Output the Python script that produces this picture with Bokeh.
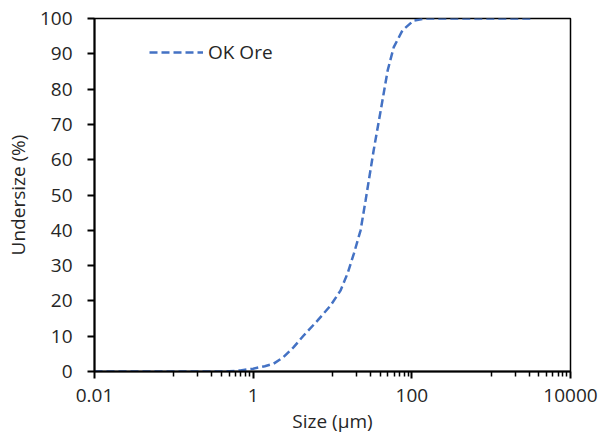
from bokeh.plotting import figure
from bokeh.models import Range1d, FixedTicker, CustomJSTickFormatter, Legend, LegendItem
from bokeh.embed import file_html
from bokeh.resources import INLINE

# Data
size_um = [0.01, 0.1, 0.3, 0.5, 0.69, 1.0, 1.4, 1.81, 2.41, 3.24, 4.33, 6.46, 9.46,
           12.6, 15.5, 18.6, 22.6, 26.1, 33.0, 40.5, 49.6, 59.0, 76.0, 105.0, 150.0,
           500.0, 1000.0, 3150.0]
undersize_pct = [0.0, 0.0, 0.0, 0.05, 0.3, 0.8, 1.5, 2.2, 4.1, 6.9, 10.2, 14.4, 18.7,
                 22.9, 27.8, 33.4, 40.0, 48.4, 62.6, 73.9, 85.3, 91.8, 96.6, 99.4, 100.0,
                 100.0, 100.0, 100.0]
series_name = "OK Ore"

x_major_ticks = [0.01, 1, 100, 10000]
x_minor_ticks = [0.1, 0.2, 0.3, 0.4, 0.5, 0.6, 0.7, 0.8, 0.9,
                 10, 20, 30, 40, 50, 60, 70, 80, 90,
                 1000, 2000, 3000, 4000, 5000, 6000, 7000, 8000, 9000]
y_ticks = [0, 10, 20, 30, 40, 50, 60, 70, 80, 90, 100]

FONT = "Open Sans"
FS = "19px"
TXT = "#262626"

p = figure(width=601, height=438, output_backend="svg", toolbar_location=None,
           x_axis_type="log", x_range=Range1d(0.01, 10000), y_range=Range1d(0, 100),
           frame_width=476, frame_height=353,
           min_border_left=94, min_border_right=31, min_border_top=18, min_border_bottom=67)

r = p.line(size_um, undersize_pct, line_color="#4472C4", line_width=2.5, line_dash="8 4")

p.xgrid.visible = False
p.ygrid.visible = False
p.outline_line_color = "black"
p.outline_line_width = 1.5
p.background_fill_color = "white"
p.border_fill_color = "white"

p.xaxis.ticker = FixedTicker(ticks=x_major_ticks, minor_ticks=x_minor_ticks)
p.xaxis.formatter = CustomJSTickFormatter(code="return tick.toString();")
p.yaxis.ticker = FixedTicker(ticks=y_ticks, minor_ticks=[])

for ax in (p.xaxis, p.yaxis):
    ax.axis_line_color = "black"
    ax.axis_line_width = 2
    ax.major_tick_line_color = "black"
    ax.major_tick_line_width = 2
    ax.major_tick_out = 7
    ax.major_tick_in = 0
    ax.major_label_text_font = FONT
    ax.major_label_text_font_size = FS
    ax.major_label_text_color = TXT
    ax.axis_label_text_font = FONT
    ax.axis_label_text_font_size = FS
    ax.axis_label_text_font_style = "normal"
    ax.axis_label_text_color = TXT

p.xaxis.minor_tick_line_color = "black"
p.xaxis.minor_tick_line_width = 1.5
p.xaxis.minor_tick_out = 5
p.xaxis.minor_tick_in = 0
p.yaxis.minor_tick_line_color = None

p.xaxis.axis_label = "Size (µm)"
p.yaxis.axis_label = "Undersize (%)"
p.xaxis.major_label_standoff = 10
p.xaxis.axis_label_standoff = 3
p.yaxis.major_label_standoff = 15
p.yaxis.axis_label_standoff = 6

legend = Legend(items=[LegendItem(label=series_name, renderers=[r])],
                location=(55, 306), padding=0, margin=0, spacing=0,
                border_line_color=None, background_fill_alpha=0,
                glyph_width=54, glyph_height=20, label_height=20, label_standoff=5,
                label_text_font=FONT, label_text_font_size=FS, label_text_color=TXT)
p.add_layout(legend)

open("out.html", "w").write(file_html(p, INLINE))
